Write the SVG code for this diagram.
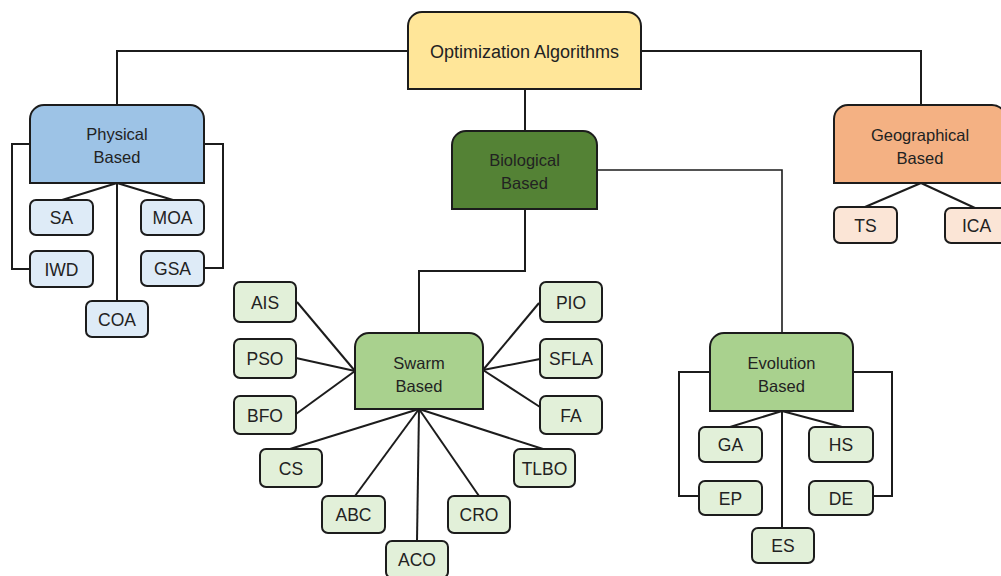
<svg xmlns="http://www.w3.org/2000/svg" width="1001" height="576" viewBox="0 0 1001 576">
  <style>
    .cat { stroke: #1c1c1c; stroke-width: 2; }
    .leaf { stroke: #1c1c1c; stroke-width: 2; }
    .links path, .links line, .links polyline { fill: none; stroke: #1c1c1c; stroke-width: 2; }
    text { font-family: "Liberation Sans", Arial, sans-serif; font-size: 16.5px; fill: #222; text-anchor: middle; }
    g.l text { font-size: 17.5px; }
    .title { font-size: 18px; }
    .opt { fill: #FFE699; }
    .phys { fill: #9DC3E6; }
    .physLeaf { fill: #DEEBF7; }
    .bio { fill: #548235; }
    .grp { fill: #A9D18E; }
    .greenLeaf { fill: #E2F0D9; }
    .geo { fill: #F4B183; }
    .geoLeaf { fill: #FBE5D6; }
  </style>

  <!-- connectors -->
  <g id="connectors" class="links">
    <polyline points="117,105 117,51 408,51"/>
    <polyline points="641,51 921,51 921,105"/>
    <line x1="525" y1="89" x2="525" y2="131"/>
    <!-- physical -->
    <line x1="117" y1="183" x2="62" y2="200"/>
    <line x1="117" y1="183" x2="173" y2="200"/>
    <line x1="117" y1="183" x2="117" y2="301"/>
    <polyline points="30,144 12,144 12,269 30,269"/>
    <polyline points="204,144 223,144 223,268 204,268"/>
    <!-- geographical -->
    <line x1="921" y1="183" x2="865" y2="207"/>
    <line x1="921" y1="183" x2="975" y2="208"/>
    <!-- biological -->
    <polyline points="525,209 525,271 419,271 419,333"/>
    <polyline points="597,170 782,170 782,333" style="stroke-width:1.6"/>
    <!-- swarm -->
    <line x1="297" y1="302" x2="355" y2="371"/>
    <line x1="296" y1="358" x2="355" y2="371"/>
    <line x1="296" y1="414" x2="355" y2="371"/>
    <line x1="539" y1="303" x2="483" y2="370"/>
    <line x1="540" y1="359" x2="483" y2="370"/>
    <line x1="540" y1="407" x2="483" y2="370"/>
    <line x1="419" y1="409" x2="290" y2="449"/>
    <line x1="419" y1="409" x2="355" y2="496"/>
    <line x1="419" y1="409" x2="417" y2="541"/>
    <line x1="419" y1="409" x2="479" y2="496"/>
    <line x1="419" y1="409" x2="543" y2="449"/>
    <!-- evolution -->
    <line x1="782" y1="411" x2="730" y2="427"/>
    <line x1="782" y1="411" x2="842" y2="427"/>
    <line x1="782" y1="411" x2="782" y2="528"/>
    <polyline points="710,372 679,372 679,496 699,496"/>
    <polyline points="853,372 892,372 892,496 873,496"/>
  </g>

  <!-- category nodes: rounded top corners, square bottom -->
  <g id="optimization-algorithms">
    <path class="cat opt" d="M408,89 V26 A14,14 0 0 1 422,12 H627 A14,14 0 0 1 641,26 V89 Z"/>
    <text class="title" x="524.5" y="58">Optimization Algorithms</text>
  </g>
  <g id="physical-based">
    <path class="cat phys" d="M30,183 V119 A14,14 0 0 1 44,105 H190 A14,14 0 0 1 204,119 V183 Z"/>
    <text x="117" y="140">Physical</text>
    <text x="117" y="163">Based</text>
  </g>
  <g id="biological-based">
    <path class="cat bio" d="M452,209 V145 A14,14 0 0 1 466,131 H583 A14,14 0 0 1 597,145 V209 Z"/>
    <text x="524.5" y="166">Biological</text>
    <text x="524.5" y="189">Based</text>
  </g>
  <g id="geographical-based">
    <path class="cat geo" d="M834,183 V119 A14,14 0 0 1 848,105 H992 A14,14 0 0 1 1006,119 V183 Z"/>
    <text x="920" y="141">Geographical</text>
    <text x="920" y="164">Based</text>
  </g>
  <g id="swarm-based">
    <path class="cat grp" d="M355,409 V347 A14,14 0 0 1 369,333 H469 A14,14 0 0 1 483,347 V409 Z"/>
    <text x="419" y="369">Swarm</text>
    <text x="419" y="392">Based</text>
  </g>
  <g id="evolution-based">
    <path class="cat grp" d="M710,411 V347 A14,14 0 0 1 724,333 H839 A14,14 0 0 1 853,347 V411 Z"/>
    <text x="781.5" y="369">Evolution</text>
    <text x="781.5" y="392">Based</text>
  </g>

  <!-- physical leaves -->
  <g id="sa" class="l"><rect class="leaf physLeaf" x="30" y="200" width="63" height="35" rx="6"/><text x="61.5" y="224">SA</text></g>
  <g id="moa" class="l"><rect class="leaf physLeaf" x="141" y="200" width="63" height="35" rx="6"/><text x="172.5" y="224">MOA</text></g>
  <g id="iwd" class="l"><rect class="leaf physLeaf" x="30" y="251" width="63" height="36" rx="6"/><text x="61.5" y="275.5">IWD</text></g>
  <g id="gsa" class="l"><rect class="leaf physLeaf" x="141" y="251" width="63" height="35" rx="6"/><text x="172.5" y="275">GSA</text></g>
  <g id="coa" class="l"><rect class="leaf physLeaf" x="86" y="301" width="62" height="36" rx="6"/><text x="117" y="325.5">COA</text></g>

  <!-- geographical leaves -->
  <g id="ts" class="l"><rect class="leaf geoLeaf" x="834" y="207" width="63" height="36" rx="6"/><text x="865.5" y="231.5">TS</text></g>
  <g id="ica" class="l"><rect class="leaf geoLeaf" x="945" y="208" width="63" height="35" rx="6"/><text x="976.5" y="232">ICA</text></g>

  <!-- swarm leaves -->
  <g id="ais" class="l"><rect class="leaf greenLeaf" x="234" y="282" width="62" height="40" rx="6"/><text x="265" y="308.5">AIS</text></g>
  <g id="pso" class="l"><rect class="leaf greenLeaf" x="234" y="339" width="62" height="39" rx="6"/><text x="265" y="365">PSO</text></g>
  <g id="bfo" class="l"><rect class="leaf greenLeaf" x="234" y="396" width="62" height="38" rx="6"/><text x="265" y="421.5">BFO</text></g>
  <g id="cs" class="l"><rect class="leaf greenLeaf" x="260" y="449" width="62" height="38" rx="6"/><text x="291" y="474.5">CS</text></g>
  <g id="abc" class="l"><rect class="leaf greenLeaf" x="322" y="496" width="63" height="37" rx="6"/><text x="353.5" y="521">ABC</text></g>
  <g id="aco" class="l"><rect class="leaf greenLeaf" x="386" y="541" width="62" height="37" rx="6"/><text x="417" y="566">ACO</text></g>
  <g id="cro" class="l"><rect class="leaf greenLeaf" x="448" y="496" width="62" height="37" rx="6"/><text x="479" y="521">CRO</text></g>
  <g id="tlbo" class="l"><rect class="leaf greenLeaf" x="514" y="449" width="61" height="38" rx="6"/><text x="544.5" y="474.5">TLBO</text></g>
  <g id="pio" class="l"><rect class="leaf greenLeaf" x="540" y="282" width="62" height="40" rx="6"/><text x="571" y="308.5">PIO</text></g>
  <g id="sfla" class="l"><rect class="leaf greenLeaf" x="540" y="339" width="62" height="39" rx="6"/><text x="571" y="365">SFLA</text></g>
  <g id="fa" class="l"><rect class="leaf greenLeaf" x="540" y="396" width="62" height="38" rx="6"/><text x="571" y="421.5">FA</text></g>

  <!-- evolution leaves -->
  <g id="ga" class="l"><rect class="leaf greenLeaf" x="699" y="427" width="63" height="35" rx="6"/><text x="730.5" y="451">GA</text></g>
  <g id="hs" class="l"><rect class="leaf greenLeaf" x="809" y="427" width="64" height="35" rx="6"/><text x="841" y="451">HS</text></g>
  <g id="ep" class="l"><rect class="leaf greenLeaf" x="699" y="481" width="63" height="34" rx="6"/><text x="730.5" y="504.5">EP</text></g>
  <g id="de" class="l"><rect class="leaf greenLeaf" x="809" y="481" width="64" height="34" rx="6"/><text x="841" y="504.5">DE</text></g>
  <g id="es" class="l"><rect class="leaf greenLeaf" x="752" y="528" width="62" height="35" rx="6"/><text x="783" y="552">ES</text></g>
</svg>
